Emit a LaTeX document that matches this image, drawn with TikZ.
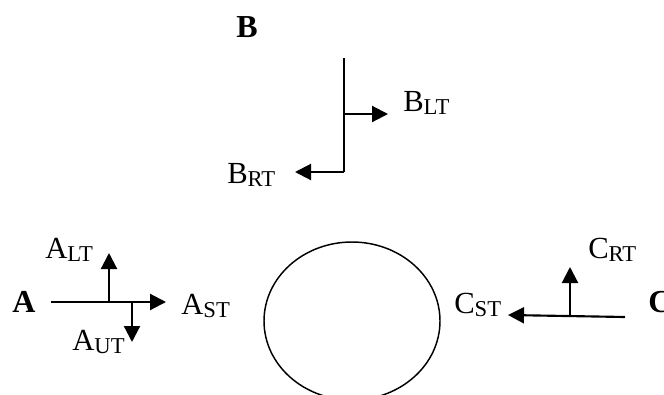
\documentclass[tikz,border=0pt]{standalone}
\usepackage{fontspec}
\setmainfont{Liberation Serif}
\usetikzlibrary{arrows.meta,shapes.geometric}
\newcommand{\lbl}[2]{#1\raisebox{-0.22ex}{\fontsize{17}{18}\selectfont #2}}
\tikzset{
  lab/.style={inner sep=0pt, anchor=base west, font=\fontsize{23}{25}\selectfont},
  big/.style={inner sep=0pt, anchor=base west, font=\fontsize{24}{26}\selectfont\bfseries},
  ln/.style={line width=1.6pt},
  arr/.style={line width=1.6pt, -{Triangle[length=12pt,width=12pt]}},
}
\begin{document}
\begin{tikzpicture}[x=0.75pt,y=-0.75pt]
\useasboundingbox (0,0) rectangle (664,394);
\begin{scope}
\clip (0,0) rectangle (664,394);
% B
\node[big] (Bt) at (236,37) {B};
\coordinate (b1) at (344,58);
\coordinate (b2) at (344,114);
\coordinate (b3) at (344,172);
\node[lab] (BLT) at (403,111) {\lbl{B}{LT}};
\node[lab] (BRT) at (227,183) {\lbl{B}{RT}};
\coordinate (bt1) at (388,114);
\coordinate (bt2) at (295,172);
\draw[ln] (b1) -- (b3);
\draw[arr] (b2) -- (bt1);
\draw[arr] (b3) -- (bt2);
% A
\node[big] (At) at (12,312) {A};
\coordinate (a0) at (51,302);
\coordinate (a1) at (166,302);
\coordinate (a2) at (109,302);
\coordinate (a3) at (109,253);
\coordinate (a4) at (132,302);
\coordinate (a5) at (132,342);
\draw[arr] (a0) -- (a1);
\draw[arr] (a2) -- (a3);
\draw[arr] (a4) -- (a5);
\node[lab] (ALT) at (45,258) {\lbl{A}{LT}};
\node[lab] (AST) at (181,314) {\lbl{A}{ST}};
\node[lab] (AUT) at (72,350) {\lbl{A}{UT}};
% circle
\node[draw, line width=1.1pt, ellipse, minimum width=132pt, minimum height=118.5pt, inner sep=0pt] (E) at (352,321) {};
% C
\node[big] (Ct) at (648,312) {C};
\coordinate (c0) at (625,317);
\coordinate (c1) at (508,315);
\coordinate (c2) at (570,316);
\coordinate (c3) at (570,267);
\draw[arr] (c0) -- (c1);
\draw[arr] (c2) -- (c3);
\node[lab] (CRT) at (588,258) {\lbl{C}{RT}};
\node[lab] (CST) at (454,313) {\lbl{C}{ST}};
\end{scope}
\end{tikzpicture}
\end{document}
